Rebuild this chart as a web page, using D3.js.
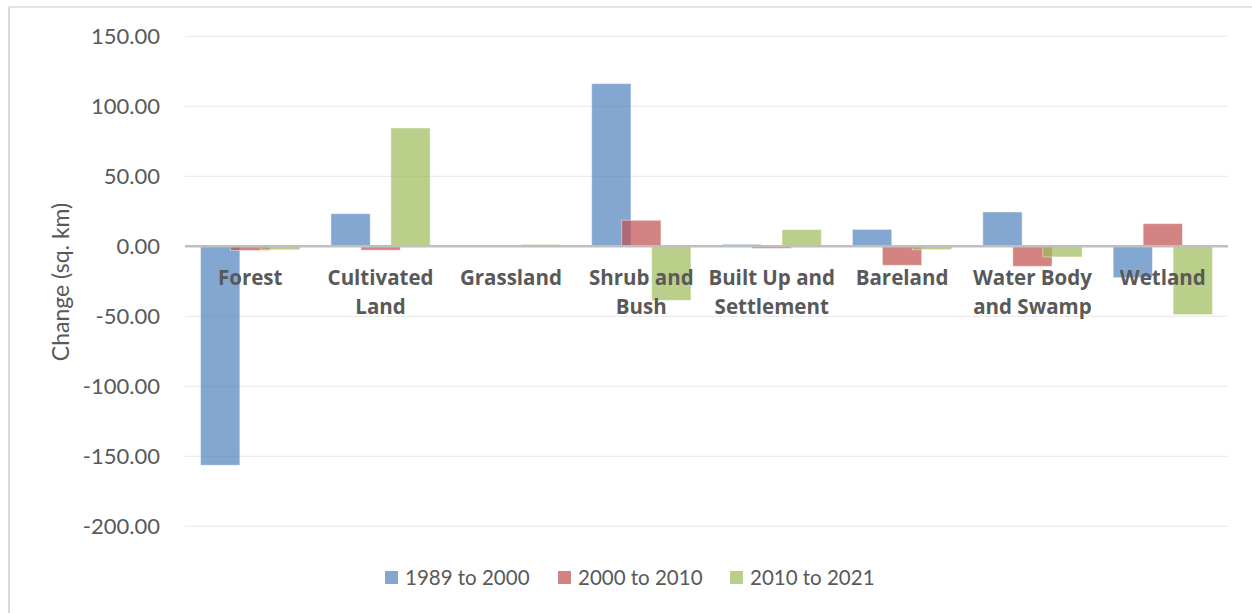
<!DOCTYPE html>
<html>
<head>
<meta charset="utf-8">
<script src="https://cdn.jsdelivr.net/npm/d3@7/dist/d3.min.js"></script>
<style>
  html, body { margin: 0; padding: 0; background: #ffffff; }
  svg { display: block; font-family: Lato, "Open Sans", sans-serif; }
</style>
</head>
<body>
<svg id="chart" width="1252" height="613"></svg>
<script>
// Land cover categories (each label split into display lines)
const categories = ["Forest", "Cultivated Land", "Grassland", "Shrub and Bush",
  "Built Up and Settlement", "Bareland", "Water Body and Swamp", "Wetland"];
const categoryLines = [["Forest"], ["Cultivated", "Land"], ["Grassland"], ["Shrub and", "Bush"],
  ["Built Up and", "Settlement"], ["Bareland"], ["Water Body", "and Swamp"], ["Wetland"]];

// Change in area per period (sq. km)
const periods = ["1989 to 2000", "2000 to 2010", "2010 to 2021"];
const change1989to2000 = [-156.4, 23.3, 0.2, 116.2, 1.4, 12.1, 24.5, -22.4];
const change2000to2010 = [-3.0, -2.8, -0.5, 18.6, -1.5, -13.6, -14.3, 16.2];
const change2010to2021 = [-2.5, 84.5, 1.4, -38.6, 11.9, -2.4, -7.6, -48.8];
const seriesValues = [change1989to2000, change2000to2010, change2010to2021];
const seriesColors = ["#4f81bd", "#c0504d", "#9bbb59"];

const yTicks = [150, 100, 50, 0, -50, -100, -150, -200];

const svg = d3.select("#chart");
const plot = { left: 185, right: 1228, top: 36.3, bottom: 526.3 };

// chart frame (left and top edges)
svg.append("line").attr("x1", 9).attr("x2", 9).attr("y1", 7).attr("y2", 613)
  .attr("stroke", "#d9d9d9").attr("stroke-width", 2);
svg.append("line").attr("x1", 9).attr("x2", 1252).attr("y1", 7).attr("y2", 7)
  .attr("stroke", "#d9d9d9").attr("stroke-width", 1.5);

const y = d3.scaleLinear().domain([-200, 150]).range([plot.bottom, plot.top]);
const x = d3.scaleBand().domain(categories).range([plot.left, plot.right])
  .paddingInner(0.2385).paddingOuter(0.2385 / 2);
const barWidth = 39.3;
const xSeries = d3.scalePoint().domain(periods).range([barWidth / 2, x.bandwidth() - barWidth / 2]);

// gridlines
svg.append("g").selectAll("line").data(yTicks.filter(t => t !== 0)).join("line")
  .attr("x1", plot.left).attr("x2", plot.right)
  .attr("y1", d => y(d)).attr("y2", d => y(d))
  .attr("stroke", "#ebebeb").attr("stroke-width", 1.2);

// y axis labels (plain hyphen for negatives)
const fmt = d3.format(".2f");
const yAxis = d3.axisLeft(y).tickValues(yTicks)
  .tickFormat(d => fmt(d).replace("\u2212", "-")).tickSize(0).tickPadding(0);
const yg = svg.append("g").attr("transform", `translate(160,0)`).call(yAxis);
yg.select(".domain").remove();
yg.selectAll("text").attr("fill", "#595959").style("font-size", "22px")
  .style("font-family", "Lato, 'Open Sans', sans-serif");

// y axis title
svg.append("text")
  .attr("transform", `translate(69,282) rotate(-90)`)
  .attr("text-anchor", "middle")
  .attr("fill", "#595959").style("font-size", "23px")
  .text("Change (sq. km)");

// bars
periods.forEach((p, si) => {
  svg.append("g").selectAll("rect").data(seriesValues[si]).join("rect")
    .attr("x", (d, i) => x(categories[i]) + xSeries(p) - barWidth / 2)
    .attr("width", barWidth)
    .attr("y", d => Math.min(y(d), y(0)))
    .attr("height", d => Math.abs(y(d) - y(0)))
    .attr("fill", seriesColors[si]).attr("fill-opacity", 0.7)
    .attr("stroke", "#ffffff").attr("stroke-opacity", 0.45).attr("stroke-width", 1);
});

// zero axis line
svg.append("line").attr("x1", plot.left).attr("x2", plot.right)
  .attr("y1", y(0)).attr("y2", y(0))
  .attr("stroke", "#bfbfbf").attr("stroke-width", 2.6);

// category labels
const catG = svg.append("g");
categories.forEach((c, i) => {
  const cx = x(c) + x.bandwidth() / 2;
  const t = catG.append("text")
    .attr("x", cx).attr("y", 285)
    .attr("text-anchor", "middle").attr("fill", "#595959")
    .style("font-family", "'Open Sans', Lato, sans-serif")
    .style("font-size", "20.5px").style("font-weight", "bold");
  categoryLines[i].forEach((line, li) => {
    t.append("tspan").attr("x", cx).attr("dy", li === 0 ? 0 : 29).text(line);
  });
});

// legend
const legendX = [385, 558, 730];
const legend = svg.append("g");
periods.forEach((p, i) => {
  legend.append("rect").attr("x", legendX[i]).attr("y", 571).attr("width", 13).attr("height", 13)
    .attr("fill", seriesColors[i]).attr("fill-opacity", 0.7);
  legend.append("text").attr("x", legendX[i] + 20).attr("y", 584.5)
    .attr("fill", "#595959").style("font-size", "20.5px").text(p);
});
</script>
</body>
</html>
